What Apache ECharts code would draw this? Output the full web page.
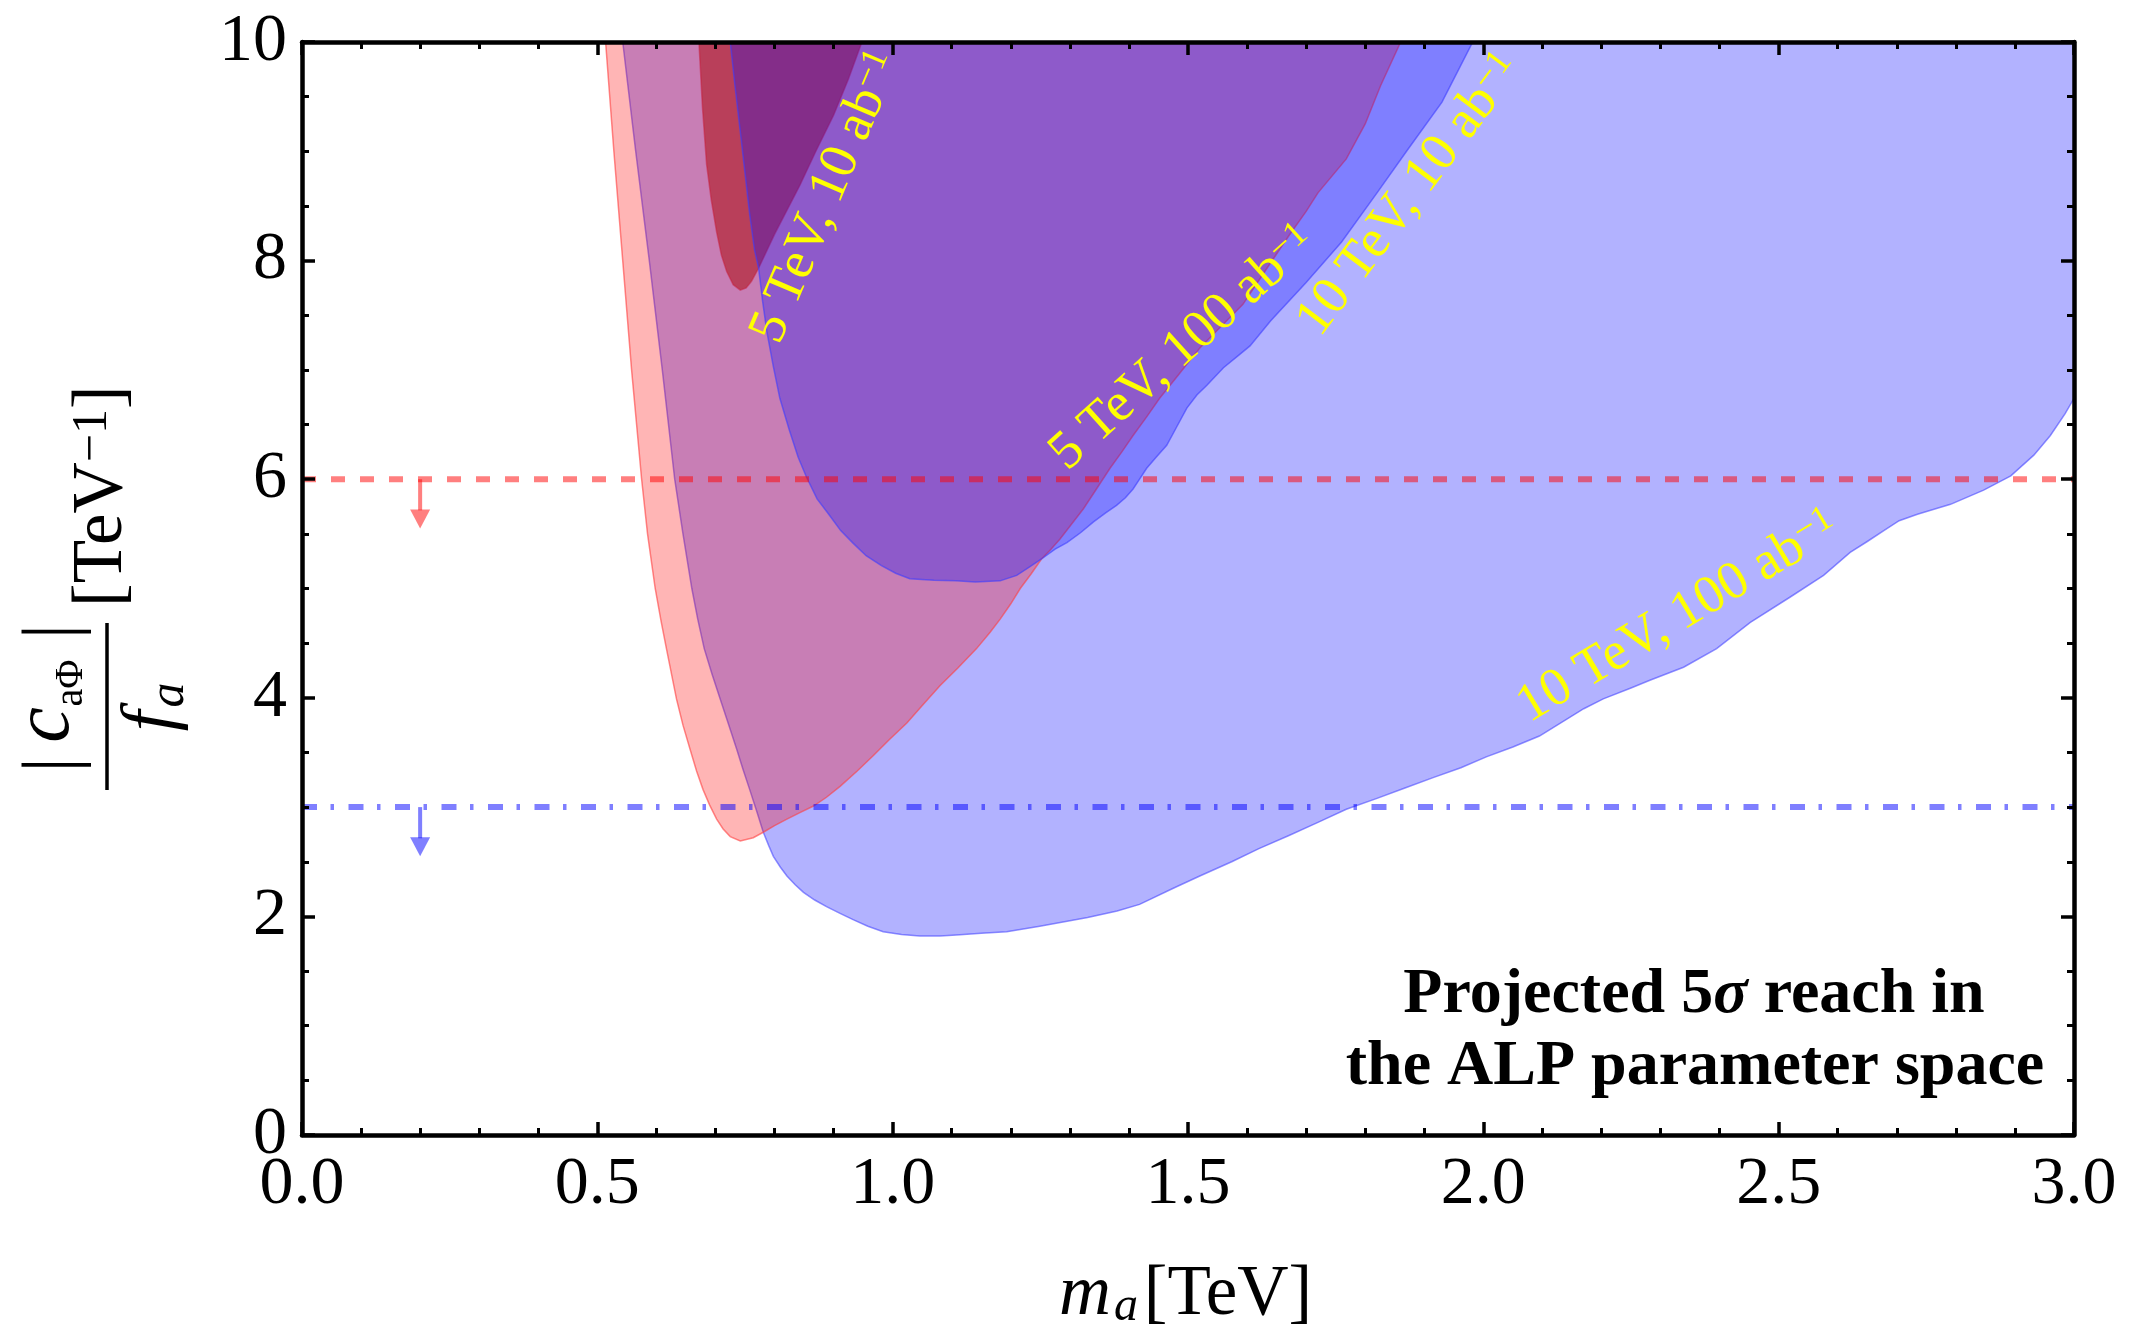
<!DOCTYPE html>
<html>
<head>
<meta charset="utf-8">
<script src="https://cdn.jsdelivr.net/npm/echarts@6/dist/echarts.min.js"></script>
<style>html,body{margin:0;padding:0;background:#fff}#c{width:2135px;height:1324px}</style>
</head>
<body>
<div id="c"></div>
<script>
// ---------------- DATA ----------------
// Region boundaries [m_a (TeV), |c_aPhi|/f_a (TeV^-1)]
const reach10TeV100ab = [[0.543,10],[0.565,9],[0.588,8],[0.610,7],[0.631,6],[0.645,5.5],[0.660,5.0],[0.670,4.72],[0.681,4.45],[0.694,4.22],[0.708,3.99],[0.722,3.76],[0.736,3.53],[0.747,3.34],[0.758,3.16],[0.770,2.96],[0.781,2.77],[0.790,2.65],[0.798,2.55],[0.810,2.45],[0.821,2.37],[0.835,2.29],[0.849,2.22],[0.868,2.15],[0.888,2.09],[0.910,2.03],[0.933,1.97],[0.958,1.91],[0.984,1.86],[1.015,1.835],[1.046,1.82],[1.080,1.82],[1.108,1.83],[1.150,1.845],[1.193,1.86],[1.249,1.91],[1.300,1.96],[1.330,1.99],[1.380,2.05],[1.418,2.11],[1.476,2.26],[1.520,2.37],[1.574,2.50],[1.620,2.62],[1.671,2.74],[1.720,2.86],[1.768,2.98],[1.820,3.08],[1.865,3.17],[1.915,3.27],[1.962,3.36],[2.005,3.46],[2.050,3.55],[2.095,3.65],[2.140,3.80],[2.170,3.90],[2.203,3.99],[2.250,4.09],[2.282,4.16],[2.339,4.28],[2.395,4.45],[2.452,4.69],[2.519,4.92],[2.576,5.12],[2.621,5.33],[2.650,5.43],[2.678,5.53],[2.704,5.62],[2.735,5.68],[2.791,5.77],[2.847,5.90],[2.893,6.03],[2.932,6.22],[2.960,6.40],[2.985,6.60],[3.0,6.74],[3.0,10]];
const reach10TeV10ab = [[0.725,10],[0.733,9.6],[0.742,9.18],[0.750,8.80],[0.758,8.42],[0.766,8.10],[0.773,7.93],[0.780,7.62],[0.787,7.35],[0.798,7.03],[0.809,6.74],[0.825,6.45],[0.840,6.20],[0.854,6.02],[0.872,5.82],[0.893,5.67],[0.912,5.53],[0.932,5.42],[0.955,5.30],[0.981,5.21],[1.005,5.14],[1.029,5.09],[1.070,5.075],[1.107,5.07],[1.140,5.06],[1.182,5.07],[1.210,5.12],[1.230,5.19],[1.252,5.27],[1.275,5.36],[1.295,5.42],[1.318,5.51],[1.340,5.61],[1.360,5.69],[1.379,5.76],[1.394,5.83],[1.407,5.91],[1.418,6.00],[1.430,6.10],[1.446,6.20],[1.464,6.31],[1.481,6.48],[1.498,6.65],[1.515,6.77],[1.532,6.86],[1.560,7.02],[1.585,7.13],[1.605,7.22],[1.640,7.45],[1.700,7.80],[1.760,8.17],[1.820,8.62],[1.870,9.00],[1.930,9.45],[1.982,10]];
const reach5TeV100ab = [[0.514,10],[0.528,9],[0.543,8],[0.558,7],[0.575,6],[0.585,5.5],[0.598,5.0],[0.608,4.7],[0.617,4.45],[0.634,3.99],[0.645,3.75],[0.657,3.53],[0.668,3.33],[0.679,3.16],[0.690,3.02],[0.702,2.89],[0.713,2.80],[0.725,2.73],[0.742,2.69],[0.764,2.72],[0.781,2.77],[0.800,2.83],[0.821,2.89],[0.843,2.95],[0.866,3.01],[0.888,3.09],[0.911,3.19],[0.940,3.33],[0.967,3.47],[0.995,3.62],[1.024,3.77],[1.052,3.94],[1.080,4.11],[1.110,4.27],[1.142,4.45],[1.165,4.60],[1.182,4.72],[1.200,4.86],[1.216,5.00],[1.234,5.13],[1.252,5.27],[1.268,5.36],[1.283,5.45],[1.303,5.59],[1.323,5.73],[1.345,5.91],[1.368,6.10],[1.388,6.25],[1.407,6.40],[1.430,6.57],[1.452,6.74],[1.486,6.97],[1.520,7.20],[1.560,7.42],[1.593,7.60],[1.630,7.90],[1.671,8.23],[1.700,8.45],[1.720,8.62],[1.768,8.93],[1.800,9.25],[1.826,9.60],[1.860,10]];
const reach5TeV10ab = [[0.672,10],[0.678,9.4],[0.685,8.88],[0.693,8.55],[0.702,8.26],[0.710,8.05],[0.719,7.90],[0.730,7.78],[0.742,7.73],[0.752,7.75],[0.761,7.81],[0.773,7.93],[0.800,8.24],[0.843,8.69],[0.870,9.00],[0.900,9.33],[0.925,9.66],[0.948,10]];

const xTickLabels = ['0.0','0.5','1.0','1.5','2.0','2.5','3.0'];
const yTickLabels = ['0','2','4','6','8','10'];

const limitY = [6, 3];              // horizontal limits (5 TeV red, 10 TeV blue)
const arrowX = [0.2, 0.2];
const arrowFrom = [6, 3];
const arrowTo = [5.55, 2.55];

const regionLabels = ['5 TeV, 10 ab', '5 TeV, 100 ab', '10 TeV, 10 ab', '10 TeV, 100 ab'];
const labelX = [0.888, 1.492, 1.876, 2.330];
const labelY = [8.58, 7.20, 8.60, 4.74];
const labelAngle = [67, 42, 53, 31];

// ---------------- STYLE ----------------
const SERIF = "'Liberation Serif','Times New Roman',serif";
const limitColors = ['rgba(255,0,0,0.5)', 'rgba(0,0,255,0.5)'];
const limitDash = [[14,15], [15,13.5,3.5,14.5]];

const chart = echarts.init(document.getElementById('c'), null, {renderer: 'canvas'});

function regionSeries(pts, fill, stroke) {
  return {
    type: 'custom', coordinateSystem: 'cartesian2d', clip: true, silent: true,
    data: [pts[0]],
    renderItem: (params, api) => ({
      type: 'polygon',
      shape: {points: pts.map(p => api.coord(p))},
      style: {fill: fill, stroke: stroke, lineWidth: 1.5}
    })
  };
}

const axisBase = {
  type: 'value', z: 10,
  axisLine: {show: true, onZero: false, lineStyle: {color: '#000', width: 4.5}},
  axisTick: {show: true, inside: true, length: 13, lineStyle: {color: '#000', width: 3.5}},
  splitLine: {show: false}, minorSplitLine: {show: false}
};
const minorX = {show: true, splitNumber: 5, length: 7, lineStyle: {color: '#000', width: 3}};
const minorY = {show: true, splitNumber: 4, length: 7, lineStyle: {color: '#000', width: 3}};

const supRich = (size, fill) => ({
  m: {fontFamily: SERIF, fontSize: size, lineHeight: size, verticalAlign: 'bottom', fill: fill},
  s: {fontFamily: SERIF, fontSize: Math.round(size * 0.68), lineHeight: Math.round(size * 0.36), verticalAlign: 'top', fill: fill}
});

const series = [
  regionSeries(reach10TeV100ab, 'rgba(0,0,255,0.3)', 'rgba(70,70,255,0.6)'),
  regionSeries(reach5TeV100ab, 'rgba(255,0,0,0.29)', 'rgba(255,60,60,0.6)'),
  regionSeries(reach5TeV10ab, 'rgba(170,0,0,0.5)', 'rgba(200,30,60,0.5)'),
  regionSeries(reach10TeV10ab, 'rgba(0,0,255,0.287)', 'rgba(60,60,255,0.6)')
];

limitY.forEach((y, i) => {
  series.push({
    type: 'line', silent: true, symbol: 'none', animation: false,
    data: [[0, y], [3, y]],
    lineStyle: {color: limitColors[i], width: 6, type: limitDash[i]}
  });
});

series.push({
  type: 'custom', coordinateSystem: 'cartesian2d', silent: true,
  data: arrowX.map((x, i) => [x, arrowFrom[i], arrowTo[i]]),
  renderItem: (params, api) => {
    const i = params.dataIndex;
    const p0 = api.coord([api.value(0), api.value(1)]);
    const p1 = api.coord([api.value(0), api.value(2)]);
    const hl = 19, hw = 20, col = limitColors[i];
    return {type: 'group', children: [
      {type: 'line', shape: {x1: p0[0], y1: p0[1], x2: p1[0], y2: p1[1] - hl + 1}, style: {stroke: col, lineWidth: 4}},
      {type: 'polygon', shape: {points: [[p1[0] - hw / 2, p1[1] - hl], [p1[0] + hw / 2, p1[1] - hl], [p1[0], p1[1]]]}, style: {fill: col}}
    ]};
  }
});

series.push({
  type: 'custom', coordinateSystem: 'cartesian2d', silent: true, clip: false,
  data: labelX.map((x, i) => [x, labelY[i]]),
  renderItem: (params, api) => {
    const i = params.dataIndex;
    const p = api.coord([api.value(0), api.value(1)]);
    return {
      type: 'text', x: p[0], y: p[1], rotation: labelAngle[i] * Math.PI / 180,
      style: {
        text: '{m|' + regionLabels[i] + '}{s|\u22121}',
        rich: supRich(54, '#ffff00'),
        fill: '#ffff00', align: 'center', verticalAlign: 'middle'
      }
    };
  }
});

const txt = (t, x, y, size, extra) => Object.assign({
  type: 'text', x: x, y: y,
  style: Object.assign({text: t, fontFamily: SERIF, fontSize: size, fill: '#000', align: 'center', verticalAlign: 'middle'}, extra || {})
});

const graphic = [
  // y-axis title, rotated (reads bottom to top)
  {type: 'group', x: 107, y: 706.5, rotation: Math.PI / 2, children: [
    {type: 'line', shape: {x1: -83.5, y1: 0, x2: 83.5, y2: 0}, style: {stroke: '#000', lineWidth: 3.5}},
    {type: 'text', x: -58.5, y: -52, style: {text: '|', fontFamily: SERIF, fontSize: 76, fill: '#000', align: 'center', verticalAlign: 'middle'}},
    {type: 'text', x: -18.4, y: -60, style: {text: 'c', fontFamily: SERIF, fontStyle: 'italic', fontSize: 80, fill: '#000', align: 'center', verticalAlign: 'middle'}},
    {type: 'text', x: 23.5, y: -36, style: {text: 'a\u03A6', fontFamily: SERIF, fontSize: 40, fill: '#000', align: 'center', verticalAlign: 'middle'}},
    {type: 'text', x: 74.8, y: -52, style: {text: '|', fontFamily: SERIF, fontSize: 76, fill: '#000', align: 'center', verticalAlign: 'middle'}},
    {type: 'text', x: -14.5, y: 45.5, style: {text: 'f', fontFamily: SERIF, fontStyle: 'italic', fontSize: 74, fill: '#000', align: 'center', verticalAlign: 'middle'}},
    {type: 'text', x: 11.5, y: 62.5, style: {text: 'a', fontFamily: SERIF, fontStyle: 'italic', fontSize: 50, fill: '#000', align: 'center', verticalAlign: 'middle'}},
    {type: 'text', x: 99.5, y: -4, style: {
      text: '{m|[TeV}{s|\u22121}{m|]}',
      rich: {
        m: {fontFamily: SERIF, fontSize: 71, lineHeight: 70, verticalAlign: 'bottom', fill: '#000'},
        s: {fontFamily: SERIF, fontSize: 50, lineHeight: 20, verticalAlign: 'top', fill: '#000'}
      },
      fill: '#000', align: 'left', verticalAlign: 'middle'}}
  ]},
  // x-axis title
  txt('m', 1085, 1295, 72, {fontStyle: 'italic'}),
  txt('a', 1126, 1307, 48, {fontStyle: 'italic'}),
  txt('[TeV]', 1228, 1295, 71),
  // annotation
  {type: 'text', x: 1694, y: 995, style: {
    text: '{b|Projected 5}{i|\u03C3}{b| reach in}',
    rich: {
      b: {fontFamily: SERIF, fontWeight: 'bold', fontSize: 64, fill: '#000'},
      i: {fontFamily: SERIF, fontWeight: 'bold', fontStyle: 'italic', fontSize: 64, fill: '#000'}
    },
    align: 'center', verticalAlign: 'middle', fill: '#000'}},
  txt('the ALP parameter space', 1695, 1067, 64, {fontWeight: 'bold'})
];

chart.setOption({
  animation: false,
  backgroundColor: '#ffffff',
  grid: {left: 302, right: 61, top: 42, bottom: 189, containLabel: false, outerBoundsMode: 'none'},
  xAxis: [
    Object.assign({}, axisBase, {position: 'bottom', min: 0, max: 3, interval: 0.5, minorTick: minorX,
      axisLabel: {show: true, color: '#000', fontFamily: SERIF, fontSize: 68, margin: 16, showMinLabel: true, showMaxLabel: true,
        formatter: v => xTickLabels[Math.round(v / 0.5)]}}),
    Object.assign({}, axisBase, {position: 'top', min: 0, max: 3, interval: 0.5, minorTick: minorX, axisLabel: {show: false}})
  ],
  yAxis: [
    Object.assign({}, axisBase, {position: 'left', min: 0, max: 10, interval: 2, minorTick: minorY,
      axisLabel: {show: true, color: '#000', fontFamily: SERIF, fontSize: 68, margin: 15, showMinLabel: true, showMaxLabel: true,
        formatter: v => yTickLabels[Math.round(v / 2)]}}),
    Object.assign({}, axisBase, {position: 'right', min: 0, max: 10, interval: 2, minorTick: minorY, axisLabel: {show: false}})
  ],
  series: series,
  graphic: graphic
});
</script>
</body>
</html>
